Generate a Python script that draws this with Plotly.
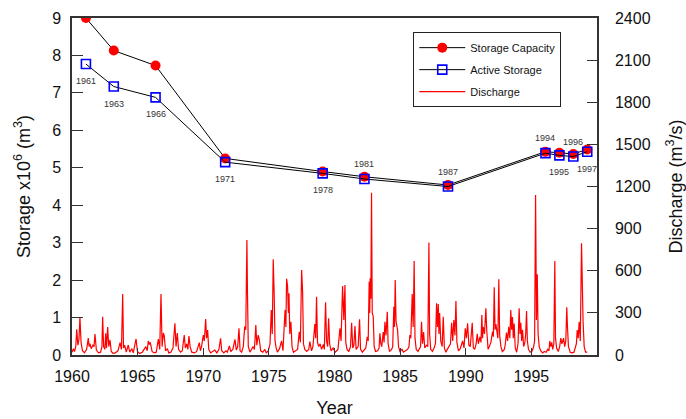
import plotly.graph_objects as go

# Survey years and reservoir storage (x10^6 m^3)
survey_years = [1961, 1963, 1966, 1971, 1978, 1981, 1987, 1994, 1995, 1996, 1997]
storage_capacity = [9.00, 8.13, 7.73, 5.25, 4.90, 4.76, 4.54, 5.43, 5.40, 5.37, 5.49]
active_storage = [7.77, 7.17, 6.88, 5.15, 4.85, 4.70, 4.50, 5.39, 5.33, 5.30, 5.43]
# label placement for each survey year: below (-1) or above (+1) the markers
label_side = [-1, -1, -1, -1, -1, 1, 1, 1, -1, 1, -1]

# River discharge record (m^3/s)
discharge_time = [
    1960.00, 1960.10, 1960.18, 1960.27, 1960.34, 1960.42, 1960.50, 1960.57, 1960.65, 1960.75, 1960.90,
    1961.05, 1961.17, 1961.23, 1961.29, 1961.38, 1961.50, 1961.58, 1961.65, 1961.75, 1961.90,
    1962.05, 1962.15, 1962.20, 1962.27, 1962.36, 1962.42, 1962.48, 1962.56, 1962.64, 1962.73, 1962.82, 1962.95,
    1963.10, 1963.30, 1963.45, 1963.55, 1963.64, 1963.70, 1963.78, 1963.90,
    1964.04, 1964.15, 1964.30, 1964.40, 1964.60, 1964.70, 1964.85,
    1965.05, 1965.20, 1965.30, 1965.40, 1965.48, 1965.55, 1965.62, 1965.75, 1965.90,
    1966.05, 1966.20, 1966.30, 1966.39, 1966.47, 1966.56, 1966.62, 1966.72, 1966.85, 1966.95,
    1967.10, 1967.25, 1967.39, 1967.47, 1967.56, 1967.65, 1967.80, 1967.92,
    1968.06, 1968.14, 1968.24, 1968.32, 1968.40, 1968.48, 1968.60, 1968.80, 1968.95,
    1969.14, 1969.22, 1969.30, 1969.43, 1969.50, 1969.60, 1969.66, 1969.74, 1969.82, 1969.95,
    1970.10, 1970.25, 1970.40, 1970.55, 1970.67, 1970.75, 1970.90,
    1971.05, 1971.15, 1971.30, 1971.40, 1971.55, 1971.70, 1971.80, 1971.90, 1971.99,
    1972.07, 1972.18, 1972.30, 1972.40, 1972.48, 1972.56, 1972.60, 1972.66, 1972.78, 1972.90,
    1973.00, 1973.10, 1973.20, 1973.27, 1973.37, 1973.45, 1973.55, 1973.70, 1973.85, 1973.95,
    1974.10, 1974.22, 1974.31, 1974.38, 1974.45, 1974.52, 1974.58, 1974.66, 1974.75, 1974.90,
    1975.05, 1975.15, 1975.30, 1975.36, 1975.41, 1975.48, 1975.54, 1975.58, 1975.64, 1975.72, 1975.80, 1975.90,
    1976.05, 1976.20, 1976.32, 1976.40, 1976.49, 1976.56, 1976.62, 1976.72, 1976.85,
    1977.00, 1977.08, 1977.20, 1977.30, 1977.44, 1977.50, 1977.56, 1977.63, 1977.72, 1977.82, 1977.92,
    1978.05, 1978.12, 1978.21, 1978.28, 1978.36, 1978.43, 1978.50, 1978.60, 1978.75, 1978.90,
    1979.10, 1979.24, 1979.32, 1979.43, 1979.52, 1979.60, 1979.66, 1979.75, 1979.88,
    1980.00, 1980.08, 1980.16, 1980.24, 1980.32, 1980.40, 1980.55, 1980.65, 1980.72, 1980.85, 1980.97,
    1981.10, 1981.20, 1981.27, 1981.34, 1981.38, 1981.41, 1981.46, 1981.51, 1981.56, 1981.63, 1981.70, 1981.80, 1981.95,
    1982.05, 1982.11, 1982.18, 1982.24, 1982.35, 1982.41, 1982.47, 1982.55, 1982.64, 1982.70, 1982.80, 1982.95,
    1983.03, 1983.11, 1983.16, 1983.21, 1983.27, 1983.38, 1983.45, 1983.55, 1983.70, 1983.80, 1983.95,
    1984.10, 1984.20, 1984.26, 1984.33, 1984.38, 1984.43, 1984.50, 1984.57, 1984.63, 1984.72, 1984.85, 1984.95,
    1985.03, 1985.10, 1985.17, 1985.25, 1985.33, 1985.45, 1985.55, 1985.63, 1985.68, 1985.76, 1985.88,
    1986.00, 1986.10, 1986.18, 1986.24, 1986.30, 1986.35, 1986.40, 1986.48, 1986.58, 1986.66, 1986.74, 1986.85, 1986.95,
    1987.08, 1987.18, 1987.26, 1987.34, 1987.42, 1987.50, 1987.57, 1987.64, 1987.75, 1987.88,
    1988.05, 1988.15, 1988.24, 1988.32, 1988.41, 1988.50, 1988.60, 1988.74, 1988.82, 1988.92,
    1989.02, 1989.10, 1989.18, 1989.30, 1989.37, 1989.43, 1989.48, 1989.53, 1989.62, 1989.72, 1989.78, 1989.88, 1989.97,
    1990.08, 1990.20, 1990.26, 1990.32, 1990.38, 1990.44, 1990.52, 1990.58, 1990.65, 1990.71, 1990.80, 1990.90,
    1991.05, 1991.12, 1991.20, 1991.28, 1991.36, 1991.44, 1991.51, 1991.57, 1991.63, 1991.69, 1991.75, 1991.83, 1991.93,
    1992.03, 1992.11, 1992.17, 1992.23, 1992.29, 1992.35, 1992.43, 1992.52, 1992.58, 1992.64, 1992.70, 1992.78, 1992.90,
    1993.05, 1993.15, 1993.22, 1993.29, 1993.35, 1993.41, 1993.47, 1993.55, 1993.65, 1993.80, 1993.92,
    1994.05, 1994.15, 1994.25, 1994.31, 1994.38, 1994.45, 1994.52, 1994.60, 1994.67, 1994.72, 1994.80, 1994.92,
    1995.02, 1995.10, 1995.18, 1995.30, 1995.38, 1995.46, 1995.53, 1995.58, 1995.65, 1995.78, 1995.90,
    1996.05, 1996.15, 1996.22, 1996.28, 1996.35, 1996.42, 1996.50, 1996.59, 1996.64, 1996.70, 1996.78, 1996.88,
    1997.00,
]
discharge_flow = [
    20, 45, 25, 60, 183, 70, 110, 268, 90, 30, 15,
    40, 120, 60, 80, 45, 70, 60, 150, 35, 15,
    20, 60, 273, 60, 40, 155, 50, 199, 60, 107, 25, 12,
    15, 30, 88, 40, 434, 50, 70, 20,
    71, 20, 45, 15, 114, 25, 10,
    20, 40, 60, 30, 100, 75, 90, 25, 15,
    20, 114, 40, 434, 60, 157, 140, 30, 45, 15,
    20, 50, 226, 60, 157, 40, 20, 30,
    142, 50, 80, 40, 135, 60, 20, 15, 25,
    88, 30, 60, 142, 100, 256, 120, 178, 40, 15,
    25, 35, 15, 40, 119, 30, 15,
    30, 20, 64, 25, 40, 112, 35, 60, 190,
    30, 20, 60, 202, 180, 819, 450, 60, 20, 40,
    60, 40, 214, 70, 142, 110, 30, 20, 40, 15,
    30, 80, 320, 150, 681, 427, 100, 50, 20, 45,
    100, 30, 320, 200, 543, 491, 300, 439, 150, 237, 60, 20,
    30, 40, 166, 90, 605, 451, 80, 40, 25,
    40, 95, 30, 60, 221, 120, 415, 90, 60, 80, 40,
    75, 40, 375, 100, 60, 261, 80, 30, 50, 20,
    40, 190, 100, 491, 250, 498, 90, 40, 25,
    60, 230, 50, 70, 206, 40, 60, 254, 40, 20, 35,
    50, 130, 100, 522, 300, 546, 400, 1156, 300, 273, 60, 25, 30,
    50, 154, 80, 60, 164, 90, 237, 140, 308, 80, 25, 40,
    60, 344, 200, 534, 240, 178, 60, 25, 40, 20, 30,
    40, 60, 142, 120, 278, 434, 200, 669, 120, 40, 25, 40,
    60, 237, 80, 164, 50, 70, 60, 802, 150, 40, 25,
    50, 80, 368, 200, 363, 150, 299, 100, 60, 273, 50, 20, 40,
    60, 80, 230, 100, 249, 140, 384, 90, 30, 45,
    100, 50, 190, 120, 225, 70, 60, 230, 50, 40,
    80, 150, 80, 130, 90, 285, 120, 200, 150, 332, 180, 40, 60,
    90, 166, 130, 482, 180, 220, 150, 120, 539, 140, 60, 25,
    40, 80, 159, 100, 200, 120, 320, 180, 270, 120, 225, 50, 20,
    80, 332, 150, 230, 100, 180, 60, 90, 150, 313, 100, 40, 20,
    30, 60, 100, 1139, 250, 575, 150, 60, 30, 15, 25,
    20, 40, 30, 100, 60, 90, 40, 80, 669, 120, 50, 25,
    60, 120, 80, 120, 60, 100, 340, 200, 60, 20, 15,
    20, 50, 80, 178, 120, 237, 100, 795, 300, 240, 60, 20,
    20,
]

year_ticks = [1960, 1965, 1970, 1975, 1980, 1985, 1990, 1995]
storage_ticks = [0, 1, 2, 3, 4, 5, 6, 7, 8, 9]
discharge_ticks = [0, 300, 600, 900, 1200, 1500, 1800, 2100, 2400]

FONT = "Liberation Sans, Arial, sans-serif"
AXIS_COLOR = "#333333"

fig = go.Figure()

fig.add_trace(go.Scatter(
    x=discharge_time, y=discharge_flow, xaxis="x", yaxis="y",
    mode="lines", name="Discharge", legendrank=3, legendgroup="q",
    line=dict(color="#ff0000", width=1.2),
))
fig.add_trace(go.Scatter(
    x=survey_years, y=storage_capacity, xaxis="x", yaxis="y2",
    mode="lines+markers", name="Storage Capacity", legendrank=1, legendgroup="cap",
    line=dict(color="#000000", width=1),
    marker=dict(symbol="circle", size=10, color="#ff0000"),
))
fig.add_trace(go.Scatter(
    x=survey_years, y=active_storage, xaxis="x", yaxis="y2",
    mode="lines+markers", name="Active Storage", legendrank=2, legendgroup="act",
    line=dict(color="#000000", width=1),
    marker=dict(symbol="square-open", size=9, color="#0000ff",
                line=dict(width=1.6, color="#0000ff")),
))
# empty trace that attaches the year axis to the plot
fig.add_trace(go.Scatter(
    x=[], y=[], xaxis="x2", yaxis="y", showlegend=False, hoverinfo="skip",
))

for yr, val, side in zip(survey_years, active_storage, label_side):
    fig.add_annotation(
        x=yr, y=val, xref="x", yref="y2", text=str(yr), showarrow=False,
        yshift=15 if side > 0 else -17,
        font=dict(family=FONT, size=9, color="#333333"),
    )

tick_font = dict(family=FONT, size=16, color="#111111")
title_font = dict(family=FONT, size=18, color="#111111")

fig.update_layout(
    width=686, height=419,
    margin=dict(l=72, r=89, t=18, b=64),
    paper_bgcolor="white", plot_bgcolor="white",
    showlegend=True,
    legend=dict(
        x=0.65, y=0.958, xanchor="left", yanchor="top",
        bgcolor="white", bordercolor="#222222", borderwidth=1,
        font=dict(family=FONT, size=11, color="#111111"),
        traceorder="grouped", tracegroupgap=3, itemwidth=46,
    ),
    # data axis shared by all traces
    xaxis=dict(range=[1960, 1997.7], visible=False, showgrid=False, zeroline=False),
    # visible year axis
    xaxis2=dict(
        overlaying="x", anchor="y", side="bottom",
        range=[1960, 2000], tickvals=year_ticks,
        ticks="inside", ticklen=7, tickcolor=AXIS_COLOR,
        showline=True, linecolor=AXIS_COLOR, linewidth=1.5, mirror=True,
        showgrid=False, zeroline=False, automargin=False,
        tickfont=tick_font, ticklabelstandoff=6,
        title=dict(text="Year", font=title_font, standoff=17),
    ),
    # discharge axis (right)
    yaxis=dict(
        side="right", anchor="x", range=[0, 2400], tickvals=discharge_ticks,
        ticks="inside", ticklen=10, tickcolor=AXIS_COLOR,
        showline=True, linecolor=AXIS_COLOR, linewidth=1.5,
        showgrid=False, zeroline=False, automargin=False,
        tickfont=tick_font, ticklabelstandoff=13,
        title=dict(text="Discharge (m<sup>3</sup>/s)", font=title_font, standoff=22),
    ),
    # storage axis (left)
    yaxis2=dict(
        overlaying="y", side="left", anchor="x", range=[0, 9], tickvals=storage_ticks,
        ticks="inside", ticklen=11, tickcolor=AXIS_COLOR,
        showline=True, linecolor=AXIS_COLOR, linewidth=1.5,
        showgrid=False, zeroline=False, automargin=False,
        tickfont=tick_font, ticklabelstandoff=6,
        title=dict(text="Storage x10<sup>6</sup> (m<sup>3</sup>)", font=title_font, standoff=17),
    ),
)

fig.write_html("out.html")
